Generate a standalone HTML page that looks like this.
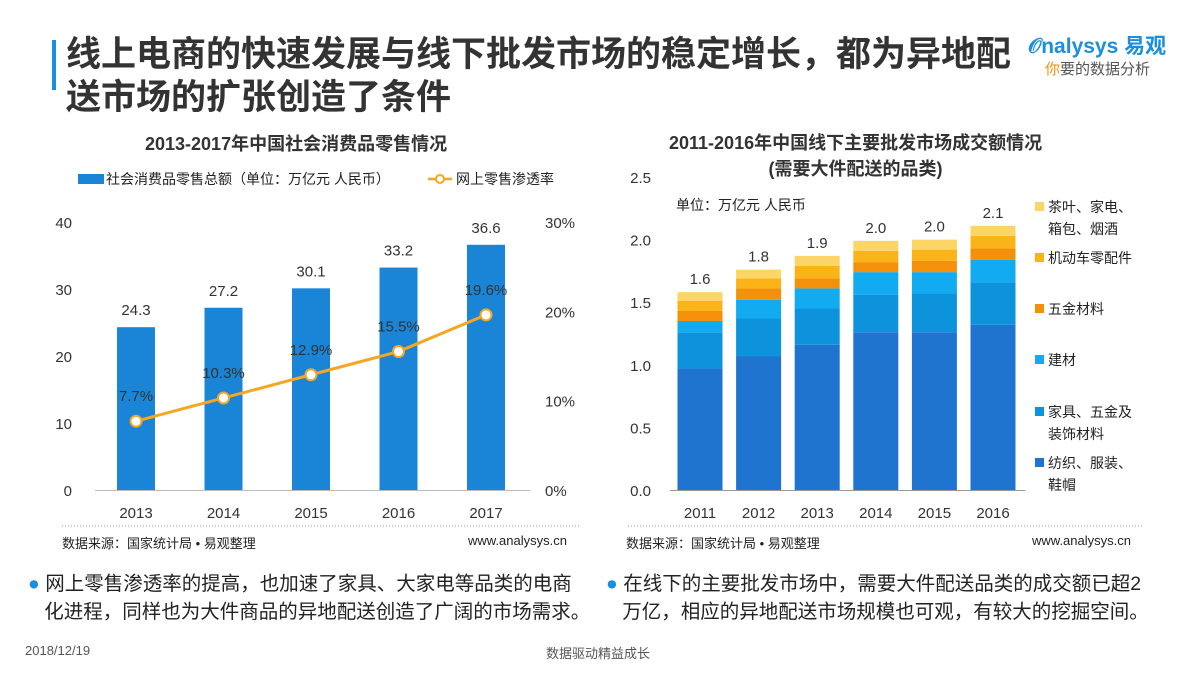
<!DOCTYPE html>
<html><head><meta charset="utf-8">
<style>
body{margin:0;width:1200px;height:675px;background:#fff;overflow:hidden;font-family:"Liberation Sans","Noto Sans CJK SC",sans-serif;position:relative}
.t{position:absolute;white-space:nowrap}
</style></head><body>
<div class="t" style="left:52px;top:40px;width:4px;height:50px;background:#1a8fe0"></div>
<div class="t" style="left:66px;top:30px;font-size:35px;font-weight:bold;color:#333;line-height:43px;font-family:'Noto Sans CJK SC',sans-serif">线上电商的快速发展与线下批发市场的稳定增长，都为异地配<br>送市场的扩张创造了条件</div>
<div class="t" style="left:1028px;top:30px;font-size:21px;color:#1a8fe0;font-weight:bold">𝒪nalysys 易观</div>
<div class="t" style="left:1045px;top:58px;font-size:15px;color:#555"><span style="color:#f5900a">你</span>要的数据分析</div>

<svg width="1200" height="675" style="position:absolute;left:0;top:0">
<g id="left"></g>
<g id="right"></g>
</svg>

<div class="t" style="left:145px;top:130px;font-size:18px;font-weight:bold;color:#333">2013-2017年中国社会消费品零售情况</div>
<div class="t" style="left:669px;top:130px;font-size:18px;font-weight:bold;color:#333;text-align:center;line-height:26px">2011-2016年中国线下主要批发市场成交额情况<br>(需要大件配送的品类)</div>
<div class="t" style="left:676px;top:195px;font-size:14px;color:#222">单位：万亿元 人民币</div>

<div class="t" style="left:62px;top:533px;font-size:13px;color:#222">数据来源：国家统计局 • 易观整理</div>
<div class="t" style="left:468px;top:533px;font-size:13px;color:#222">www.analysys.cn</div>
<div class="t" style="left:626px;top:533px;font-size:13px;color:#222">数据来源：国家统计局 • 易观整理</div>
<div class="t" style="left:1032px;top:533px;font-size:13px;color:#222">www.analysys.cn</div>

<div class="t" style="left:28px;top:570px;font-size:19.5px;color:#222;line-height:28px"><span style="color:#1a8fe0">●</span> 网上零售渗透率的提高，也加速了家具、大家电等品类的电商<br>&nbsp;&nbsp;&nbsp;化进程，同样也为大件商品的异地配送创造了广阔的市场需求。</div>
<div class="t" style="left:606px;top:570px;font-size:19.5px;color:#222;line-height:28px"><span style="color:#1a8fe0">●</span> 在线下的主要批发市场中，需要大件配送品类的成交额已超2<br>&nbsp;&nbsp;&nbsp;万亿，相应的异地配送市场规模也可观，有较大的挖掘空间。</div>
<div class="t" style="left:25px;top:643px;font-size:13px;color:#555">2018/12/19</div>
<div class="t" style="left:546px;top:643px;font-size:13px;color:#555">数据驱动精益成长</div>

<script>
const leftYears=['2013','2014','2015','2016','2017'];
const retailTotal=[24.3,27.2,30.1,33.2,36.6];
const onlineRate=[7.7,10.3,12.9,15.5,19.6];
const leftTicks=[0,10,20,30,40];
const rightPctTicks=[0,10,20,30];

const rYears=['2011','2012','2013','2014','2015','2016'];
const textile=[0.97,1.07,1.16,1.26,1.26,1.32];
const furniture=[0.29,0.30,0.29,0.30,0.31,0.34];
const building=[0.09,0.15,0.16,0.18,0.17,0.18];
const hardware=[0.08,0.09,0.08,0.08,0.09,0.09];
const autoparts=[0.08,0.08,0.10,0.09,0.09,0.10];
const teaEtc=[0.07,0.07,0.08,0.08,0.08,0.08];
const rTotals=['1.6','1.8','1.9','2.0','2.0','2.1'];
const rTicks=[0,0.5,1.0,1.5,2.0,2.5];
const rSeriesNames=['纺织、服装、鞋帽','家具、五金及装饰材料','建材','五金材料','机动车零配件','茶叶、家电、箱包、烟酒'];

const NS='http://www.w3.org/2000/svg';
function mk(p,tag,a,txt){const e=document.createElementNS(NS,tag);for(const k in a)e.setAttribute(k,a[k]);if(txt!==undefined)e.textContent=txt;p.appendChild(e);return e;}

// left chart
const L=document.getElementById('left');
const ly=v=>490-v/40*268, lp=v=>490-v/30*268, lx=i=>136+i*87.5;
leftTicks.forEach(t=>{const e=mk(L,'text',{x:72,y:ly(t)+6,'text-anchor':'end','font-size':15,fill:'#333'},t);
});
rightPctTicks.forEach(t=>{const e=mk(L,'text',{x:545,y:lp(t)+6,'text-anchor':'start','font-size':15,fill:'#333'},t+'%');
});
mk(L,'line',{x1:95,x2:530,y1:490.5,y2:490.5,stroke:'#bbb'});
const lg1=mk(L,'rect',{x:78,y:174,width:26,height:10,fill:'#1a85d6'});

mk(L,'text',{x:106,y:184,'font-size':14,fill:'#222'},'社会消费品零售总额（单位：万亿元 人民币）');
mk(L,'line',{x1:428,x2:452,y1:179,y2:179,stroke:'#f5a623','stroke-width':2.5});
const lg2=mk(L,'circle',{cx:440,cy:179,r:4,fill:'#fff',stroke:'#f5a623','stroke-width':2});

mk(L,'text',{x:456,y:184,'font-size':14,fill:'#222'},'网上零售渗透率');
leftYears.forEach((y,i)=>{
 const b=mk(L,'rect',{x:lx(i)-19,y:ly(retailTotal[i]),width:38,height:490-ly(retailTotal[i]),fill:'#1a85d6'});
 
 mk(L,'text',{x:lx(i),y:ly(retailTotal[i])-12,'text-anchor':'middle','font-size':15,fill:'#333'},retailTotal[i]);
 const t=mk(L,'text',{x:lx(i),y:518,'text-anchor':'middle','font-size':15,fill:'#333'},y);
 
});
const pts=onlineRate.map((v,i)=>lx(i)+','+lp(v)).join(' ');
const pl=mk(L,'polyline',{points:pts,fill:'none',stroke:'#f5a623','stroke-width':3});

onlineRate.forEach((v,i)=>{
 const c=mk(L,'circle',{cx:lx(i),cy:lp(v),r:5.5,fill:'#fff',stroke:'#f5a623','stroke-width':2});
 
 mk(L,'text',{x:lx(i),y:lp(v)-20,'text-anchor':'middle','font-size':15,fill:'#333'},v+'%');
});

// right chart
const R=document.getElementById('right');
const ry=v=>490-v*125.2, rx=i=>700+i*58.6;
rTicks.forEach(t=>{const e=mk(R,'text',{x:651,y:ry(t)+6,'text-anchor':'end','font-size':15,fill:'#333'},t.toFixed(1));
});
mk(R,'line',{x1:670,x2:1025,y1:490.5,y2:490.5,stroke:'#999'});
const series=[textile,furniture,building,hardware,autoparts,teaEtc];
const colors=['#1f74cf','#0c93dc','#12aaf0','#f5900a','#fbb418','#fdd466'];
rYears.forEach((y,i)=>{
 let base=0;
 series.forEach((s,k)=>{
  const r=mk(R,'rect',{x:rx(i)-22.5,y:ry(base+s[i]),width:45,height:s[i]*125.2,fill:colors[k]});
  
  base+=s[i];
 });
 mk(R,'text',{x:rx(i),y:ry(base)-8,'text-anchor':'middle','font-size':15,fill:'#333'},rTotals[i]);
 const t=mk(R,'text',{x:rx(i),y:518,'text-anchor':'middle','font-size':15,fill:'#333'},y);
 
});
const legY=[207,258,309,360,412,463];
const legLines=[['茶叶、家电、','箱包、烟酒'],['机动车零配件'],['五金材料'],['建材'],['家具、五金及','装饰材料'],['纺织、服装、','鞋帽']];
for(let j=0;j<6;j++){
 const k=5-j;
 const r=mk(R,'rect',{x:1035,y:legY[j]-5,width:9,height:9,fill:colors[k]});
 
 legLines[j].forEach((l,n)=>mk(R,'text',{x:1048,y:legY[j]+5+n*22,'font-size':14,fill:'#222'},l));
}
mk(document.querySelector('svg'),'line',{x1:62,x2:580,y1:526,y2:526,stroke:'#999','stroke-dasharray':'1,2'});
mk(document.querySelector('svg'),'line',{x1:628,x2:1143,y1:526,y2:526,stroke:'#999','stroke-dasharray':'1,2'});
</script>
</body></html>
